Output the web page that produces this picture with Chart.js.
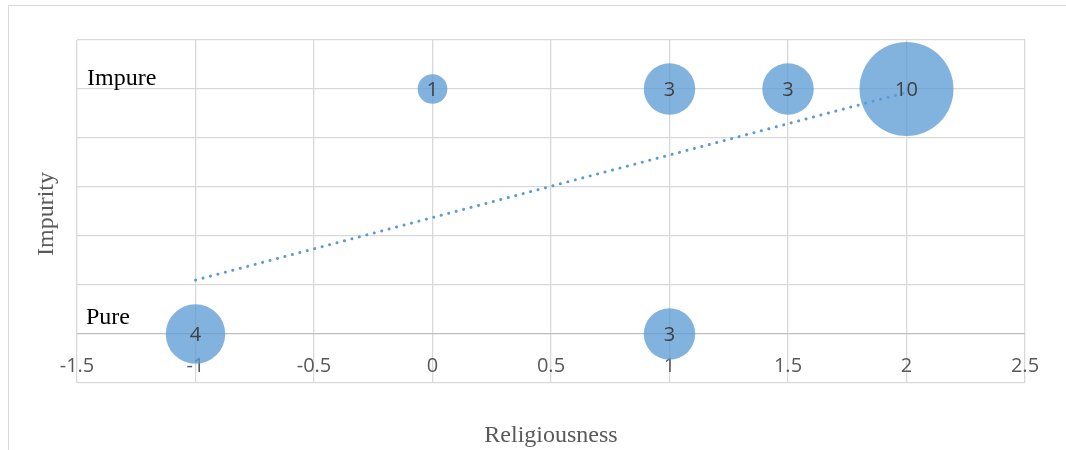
<!DOCTYPE html>
<html>
<head>
<meta charset="utf-8">
<script src="https://cdn.jsdelivr.net/npm/chart.js@4/dist/chart.umd.min.js"></script>
<style>
  html, body { margin: 0; padding: 0; background: #fff; overflow: hidden; }
  #wrap { position: relative; width: 1066px; height: 450px; }
  #frame { position: absolute; left: 8px; top: 5px; width: 1200px; height: 600px; border: 1px solid #d9d9d9; }
  canvas { position: absolute; left: 0; top: 0; }
</style>
</head>
<body>
<div id="wrap">
  <div id="frame"></div>
  <canvas id="bubbleChart" width="1066" height="450"></canvas>
</div>
<script>
// religiousness (x), impurity (y: 0 = pure, 1 = impure), bubble size = count
const xValues = [-1, 0, 1, 1, 1.5, 2];
const yValues = [0, 1, 1, 0, 1, 1];
const sizes = [4, 1, 3, 3, 3, 10];

// linear trendline end points
const trendX = [-1, 2];
const trendY = [0.22, 0.986];

const blue = "#5B9BD5";
const maxRadius = 47; // radius of the biggest bubble in px

const bubbleData = xValues.map((x, i) => ({ x: x, y: yValues[i], v: sizes[i] }));
const trendData = trendX.map((x, i) => ({ x: x, y: trendY[i] }));

// numbers in the middle of the bubbles, plus the Pure/Impure and axis titles
const textPlugin = {
    id: "textPlugin",
    afterDatasetsDraw(chart) {
        const c = chart.ctx;
        const xs = chart.scales.x, ys = chart.scales.y;
        c.save();
        c.fillStyle = "#404040";
        c.font = "20px 'Open Sans', sans-serif";
        c.textAlign = "center";
        c.textBaseline = "middle";
        bubbleData.forEach(p => {
            c.fillText(String(p.v), xs.getPixelForValue(p.x), ys.getPixelForValue(p.y) + 1);
        });

        c.fillStyle = "#000";
        c.font = "24px 'Liberation Serif', serif";
        c.textAlign = "left";
        c.textBaseline = "alphabetic";
        c.fillText("Impure", 87, 85);
        c.fillText("Pure", 86, 324);

        c.fillStyle = "#595959";
        c.textAlign = "center";
        c.fillText("Religiousness", 551, 442);
        c.translate(53, 214);
        c.rotate(-Math.PI / 2);
        c.fillText("Impurity", 0, 0);
        c.restore();
    }
};

const config = {
    type: "bubble",
    data: {
        datasets: [
            {
                data: bubbleData,
                backgroundColor: "rgba(91,155,213,0.76)",
                borderWidth: 0,
                radius: ctx => maxRadius * Math.sqrt(ctx.raw.v / 10),
                clip: false,
                order: 2
            },
            {
                type: "line",
                data: trendData,
                borderColor: blue,
                borderWidth: 3,
                borderDash: [0.1, 7.6],
                borderCapStyle: "round",
                pointRadius: 0,
                fill: false,
                order: 1
            }
        ]
    },
    options: {
        responsive: false,
        animation: false,
        layout: { autoPadding: false, padding: { left: 77, right: 41, top: 40, bottom: 67 } },
        plugins: {
            legend: { display: false },
            tooltip: { enabled: false }
        },
        scales: {
            x: {
                type: "linear",
                min: -1.5,
                max: 2.5,
                position: { y: 0 },
                ticks: {
                    stepSize: 0.5,
                    color: "#595959",
                    font: { family: "'Open Sans', sans-serif", size: 20 },
                    padding: 20,
                    callback: v => String(v)
                },
                grid: { color: "#d9d9d9", lineWidth: 1.3, drawTicks: false },
                border: { display: false }
            },
            y: {
                min: -0.2,
                max: 1.2,
                ticks: { stepSize: 0.2, display: false },
                grid: {
                    color: ctx => Math.abs(ctx.tick.value) < 1e-9 ? "#bfbfbf" : "#d9d9d9",
                    lineWidth: 1.3,
                    drawTicks: false
                },
                border: { display: false }
            }
        }
    },
    plugins: [textPlugin]
};

const bubbleChart = new Chart(document.getElementById("bubbleChart").getContext("2d"), config);
</script>
</body>
</html>
